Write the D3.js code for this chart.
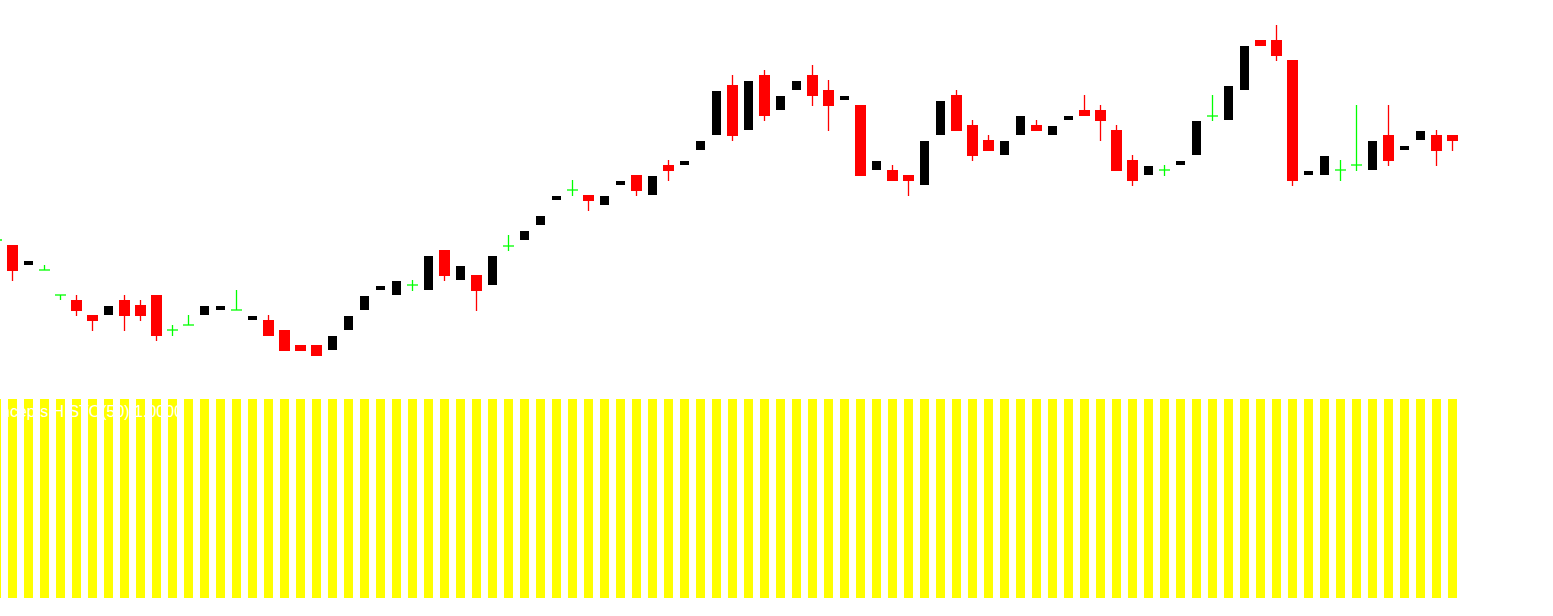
<!DOCTYPE html>
<meta charset="utf-8">
<style>
body { margin: 0; background: #fff; overflow: hidden; }
svg { display: block; font-family: "Liberation Sans", Arial, sans-serif; }
.wick { stroke-width: 1.3; }
.body { shape-rendering: crispEdges; }
.hist { fill: #ffff00; shape-rendering: crispEdges; }
</style>
<body>
<div id="chart"></div>
<script src="https://cdn.jsdelivr.net/npm/d3@7"></script>
<script>

// OHLC, one entry per bar (first bar is only partly on screen)
var open  = [1.0780,1.0775,1.0755,1.0750,1.0725,1.0720,1.0705,1.0705,1.0720,1.0715,1.0725,1.0690,1.0695,1.0705,1.0710,1.0710,1.0700,1.0700,1.0690,1.0675,1.0675,1.0670,1.0690,1.0710,1.0730,1.0725,1.0735,1.0730,1.0770,1.0740,1.0745,1.0735,1.0774,1.0780,1.0795,1.0820,1.0830,1.0825,1.0815,1.0835,1.0845,1.0825,1.0855,1.0855,1.0870,1.0885,1.0935,1.0890,1.0945,1.0910,1.0930,1.0945,1.0930,1.0920,1.0915,1.0850,1.0850,1.0845,1.0835,1.0885,1.0925,1.0895,1.0880,1.0865,1.0885,1.0895,1.0885,1.0900,1.0910,1.0910,1.0890,1.0860,1.0845,1.0850,1.0855,1.0865,1.0904,1.0900,1.0930,1.0980,1.0980,1.0960,1.0845,1.0845,1.0850,1.0855,1.0850,1.0885,1.0870,1.0880,1.0885,1.0885];
var high  = [1.0782,1.0775,1.0759,1.0755,1.0725,1.0725,1.0705,1.0714,1.0725,1.0720,1.0725,1.0695,1.0705,1.0714,1.0714,1.0730,1.0704,1.0705,1.0690,1.0675,1.0675,1.0684,1.0704,1.0724,1.0734,1.0739,1.0740,1.0764,1.0770,1.0754,1.0745,1.0764,1.0785,1.0789,1.0804,1.0824,1.0840,1.0825,1.0824,1.0839,1.0845,1.0844,1.0860,1.0859,1.0879,1.0929,1.0945,1.0939,1.0950,1.0924,1.0939,1.0955,1.0940,1.0924,1.0915,1.0859,1.0855,1.0845,1.0879,1.0919,1.0930,1.0900,1.0885,1.0879,1.0904,1.0900,1.0894,1.0904,1.0925,1.0915,1.0895,1.0865,1.0854,1.0855,1.0859,1.0899,1.0925,1.0934,1.0974,1.0980,1.0995,1.0960,1.0849,1.0864,1.0860,1.0915,1.0879,1.0915,1.0874,1.0889,1.0890,1.0885];
var low   = [1.0778,1.0739,1.0755,1.0750,1.0720,1.0704,1.0689,1.0705,1.0689,1.0699,1.0679,1.0684,1.0695,1.0705,1.0710,1.0710,1.0700,1.0684,1.0669,1.0669,1.0664,1.0670,1.0690,1.0710,1.0730,1.0725,1.0729,1.0730,1.0739,1.0740,1.0709,1.0735,1.0769,1.0780,1.0795,1.0820,1.0824,1.0809,1.0815,1.0835,1.0824,1.0825,1.0839,1.0855,1.0870,1.0885,1.0879,1.0890,1.0899,1.0910,1.0930,1.0914,1.0889,1.0920,1.0844,1.0850,1.0839,1.0824,1.0835,1.0885,1.0889,1.0859,1.0869,1.0865,1.0885,1.0889,1.0885,1.0900,1.0904,1.0879,1.0849,1.0834,1.0845,1.0844,1.0855,1.0865,1.0899,1.0900,1.0930,1.0974,1.0959,1.0834,1.0845,1.0845,1.0839,1.0849,1.0850,1.0854,1.0870,1.0880,1.0854,1.0869];
var close = [1.0780,1.0749,1.0759,1.0750,1.0725,1.0709,1.0699,1.0714,1.0704,1.0704,1.0684,1.0690,1.0695,1.0714,1.0714,1.0710,1.0704,1.0684,1.0669,1.0669,1.0664,1.0684,1.0704,1.0724,1.0734,1.0739,1.0735,1.0764,1.0744,1.0754,1.0729,1.0764,1.0774,1.0789,1.0804,1.0824,1.0830,1.0819,1.0824,1.0839,1.0829,1.0844,1.0849,1.0859,1.0879,1.0929,1.0884,1.0939,1.0904,1.0924,1.0939,1.0924,1.0914,1.0924,1.0844,1.0859,1.0839,1.0839,1.0879,1.0919,1.0889,1.0864,1.0869,1.0879,1.0904,1.0889,1.0894,1.0904,1.0904,1.0899,1.0849,1.0839,1.0854,1.0850,1.0859,1.0899,1.0904,1.0934,1.0974,1.0974,1.0964,1.0839,1.0849,1.0864,1.0850,1.0855,1.0879,1.0859,1.0874,1.0889,1.0869,1.0879];

// histogram pane values
var hist  = [1,1,1,1,1,1,1,1,1,1,1,1,1,1,1,1,1,1,1,1,1,1,1,1,1,1,1,1,1,1,1,1,1,1,1,1,1,1,1,1,1,1,1,1,1,1,1,1,1,1,1,1,1,1,1,1,1,1,1,1,1,1,1,1,1,1,1,1,1,1,1,1,1,1,1,1,1,1,1,1,1,1,1,1,1,1,1,1,1,1,1,1];
var histLabel = "ncepts HISTO(50) 1.0000";

var width = 1553, height = 616;

var data = open.map(function(o, i) {
  return {i: i, o: o, h: high[i], l: low[i], c: close[i], v: hist[i]};
});

var x = d3.scaleBand()
    .domain(data.map(function(d) { return d.i; }))
    .range([-11.5, -11.5 + 16 * data.length]);

var cx = function(d) { return x(d.i) + x.bandwidth() / 2; };

var y = d3.scaleLinear().domain([1.0404, 1.1020]).range([616, 0]);
var yh = d3.scaleLinear().domain([0, 1]).range([597.5, 399]);

var svg = d3.select("#chart").append("svg")
    .attr("width", width)
    .attr("height", height);

// histogram pane
svg.append("g").selectAll("rect")
    .data(data)
  .enter().append("rect")
    .attr("class", "hist")
    .attr("x", function(d) { return cx(d) - 4.5; })
    .attr("width", 9)
    .attr("y", function(d) { return yh(d.v); })
    .attr("height", function(d) { return yh(0) - yh(d.v); });

svg.append("text")
    .attr("x", 1)
    .attr("y", 417)
    .style("fill", "#fff")
    .style("font-size", "16px")
    .text(histLabel);

// candles
var kind = function(d) { return d.c > d.o ? "up" : (d.c < d.o ? "down" : "doji"); };
var colour = {up: "#000000", down: "#ff0000", doji: "#00ff00"};

var candles = svg.append("g").selectAll("g")
    .data(data)
  .enter().append("g");

candles.append("line")
    .attr("class", "wick")
    .attr("x1", cx)
    .attr("x2", cx)
    .attr("y1", function(d) { return y(d.h); })
    .attr("y2", function(d) { return y(d.l); })
    .style("stroke", function(d) { return colour[kind(d)]; });

candles.filter(function(d) { return kind(d) != "doji"; })
  .append("rect")
    .attr("class", "body")
    .attr("x", function(d) { return kind(d) == "down" ? cx(d) - 5.5 : cx(d) - 4.5; })
    .attr("width", function(d) { return kind(d) == "down" ? 11 : 9; })
    .attr("y", function(d) { return y(Math.max(d.o, d.c)); })
    .attr("height", function(d) { return Math.abs(y(d.o) - y(d.c)); })
    .style("fill", function(d) { return colour[kind(d)]; });

candles.filter(function(d) { return kind(d) == "doji"; })
  .append("line")
    .attr("class", "wick")
    .attr("x1", function(d) { return cx(d) - 5.5; })
    .attr("x2", function(d) { return cx(d) + 5.5; })
    .attr("y1", function(d) { return y(d.o); })
    .attr("y2", function(d) { return y(d.o); })
    .style("stroke", "#00ff00");

</script>
</body>
